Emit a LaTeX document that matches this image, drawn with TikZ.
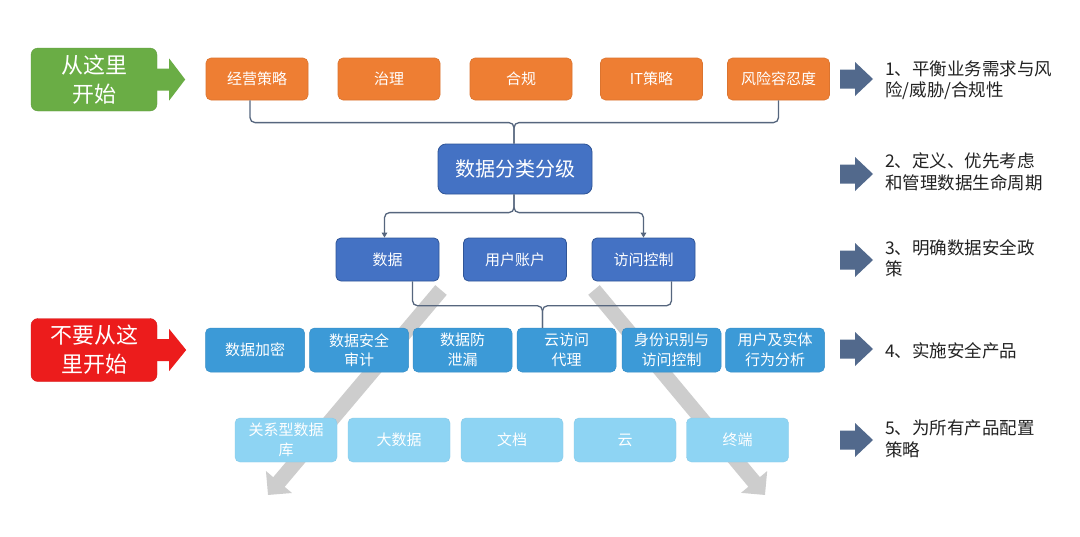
\documentclass[tikz,border=0pt]{standalone}
\usepackage{fontspec}
\setmainfont{Noto Sans CJK SC}
\usetikzlibrary{arrows.meta,calc}
\definecolor{cgreen}{HTML}{6AAD45}
\definecolor{corange}{HTML}{EE7E33}
\definecolor{cdblue}{HTML}{4472C4}
\definecolor{cdblueb}{HTML}{2F5597}
\definecolor{cmblue}{HTML}{3C9AD7}
\definecolor{clblue}{HTML}{8ED4F3}
\definecolor{cred}{HTML}{EC1C1C}
\definecolor{cslate}{HTML}{52698C}
\definecolor{cline}{HTML}{56667E}
\definecolor{cgrayar}{HTML}{CDCDCD}
\definecolor{ctext}{HTML}{222222}
\tikzset{
  box/.style={rounded corners=5pt, text=white, align=center, inner sep=0pt,
    minimum height=42pt, font=\fontsize{15}{19.5}\selectfont},
  obox/.style={box, fill=corange, draw=corange!92!black, line width=0.6pt, minimum width=102pt},
  dbbox/.style={box, fill=cdblue, draw=cdblueb, line width=0.8pt, minimum width=103pt, minimum height=43pt},
  mbbox/.style={box, fill=cmblue, draw=cmblue!92!black, line width=0.5pt, minimum width=99pt, minimum height=44pt},
  lbbox/.style={box, fill=clblue, draw=clblue!95!black, line width=0.4pt, minimum width=102pt, minimum height=44pt},
  startbox/.style={rounded corners=7pt, text=white, align=center, inner sep=0pt,
    minimum width=126pt, minimum height=63pt, font=\fontsize{22}{29}\selectfont},
  conn/.style={draw=cline, line width=1.3pt, rounded corners=5pt},
  connar/.style={conn, -{Triangle[width=5.5pt,length=5pt]}},
  lab/.style={anchor=west, align=left, text=ctext, inner sep=0pt,
    font=\fontsize{17.5}{21.5}\selectfont},
  bigar/.style={draw=cgrayar, line width=15pt, -{Triangle[width=33pt,length=17pt]}},
  rarrow/.pic={\fill[cslate] (0,-9.5) -- (15,-9.5) -- (15,-17) -- (33,0) -- (15,17) -- (15,9.5) -- (0,9.5) -- cycle;}
}
\begin{document}
\begin{tikzpicture}[x=1pt,y=-1pt]
\useasboundingbox (0,0) rectangle (1080,536);
\fill[white] (0,0) rectangle (1080,536);

% big gray diagonal arrows (behind)
\coordinate (gl0) at (441,290);
\coordinate (gl1) at (268,495);
\coordinate (gr0) at (594,290);
\coordinate (gr1) at (765,495);
\draw[bigar] (gl0) -- (gl1);
\draw[bigar] (gr0) -- (gr1);

% start boxes
\node[startbox, fill=cgreen, draw=cgreen!90!black] (gs) at (94,79.5) {从这里\\开始};
\begin{scope}[shift={(gs.east)}]
\fill[cgreen] (-2,-11) -- (12,-11) -- (12,-21) -- (28,0) -- (12,21) -- (12,11) -- (-2,11) -- cycle;
\end{scope}
\node[startbox, fill=cred, draw=cred!90!black] (rs) at (94,350) {不要从这\\里开始};
\begin{scope}[shift={(rs.east)}]
\fill[cred] (-2,-11) -- (12,-11) -- (12,-21) -- (29,0) -- (12,21) -- (12,11) -- (-2,11) -- cycle;
\end{scope}

% row 1
\node[obox] (b1) at (257,79) {经营策略};
\node[obox] (b2) at (389,79) {治理};
\node[obox] (b3) at (521,79) {合规};
\node[obox] (b4) at (651.5,79) {IT策略};
\node[obox] (b5) at (778.5,79) {风险容忍度};

% row 2
\node[box, fill=cdblue, draw=cdblueb, line width=0.8pt, rounded corners=8pt,
  minimum width=154pt, minimum height=50pt, font=\fontsize{20}{24}\selectfont] (dc) at (515,169) {数据分类分级};

% row 3
\node[dbbox] (r3a) at (387.5,259.5) {数据};
\node[dbbox] (r3b) at (515,259.5) {用户账户};
\node[dbbox] (r3c) at (643.5,259.5) {访问控制};

% row 4
\node[mbbox] (r4a) at (255,350) {数据加密};
\node[mbbox] (r4b) at (359,350) {数据安全\\审计};
\node[mbbox] (r4c) at (462.5,350) {数据防\\泄漏};
\node[mbbox] (r4d) at (566.5,350) {云访问\\代理};
\node[mbbox] (r4e) at (671.5,350) {身份识别与\\访问控制};
\node[mbbox] (r4f) at (775,350) {用户及实体\\行为分析};

% row 5
\node[lbbox] (r5a) at (286,440) {关系型数据\\库};
\node[lbbox] (r5b) at (399,440) {大数据};
\node[lbbox] (r5c) at (512,440) {文档};
\node[lbbox] (r5d) at (625,440) {云};
\node[lbbox] (r5e) at (737.5,440) {终端};

% connectors
\draw[conn] ($(b1.south)+(-7,0)$) |- ($(dc.north)+(-1,-21)$) -- ($(dc.north)+(-1,0)$);
\draw[conn] (b5.south) |- ($(dc.north)+(-1,-21)$) -- ($(dc.north)+(-1,0)$);
\draw[connar] ($(dc.south)+(-1,0)$) |- ($(r3a.north)+(-3,-25)$) -- ($(r3a.north)+(-3,0)$);
\draw[connar] ($(dc.south)+(-1,0)$) |- ($(r3c.north)+(0,-25)$) -- (r3c.north);
\draw[conn] ($(r3a.south)+(25,0)$) |- ($(r4d.north)+(-24,-22)$) -- ($(r4d.north)+(-24,0)$);
\draw[conn] ($(r3c.south)+(28,0)$) |- ($(r4d.north)+(-24,-22)$) -- ($(r4d.north)+(-24,0)$);

% right side arrows and labels
\pic at (840,79) {rarrow};
\pic at (840,174) {rarrow};
\pic at (840,260) {rarrow};
\pic at (840,349) {rarrow};
\pic at (840,440) {rarrow};
\node[lab] (t1) at (885,80) {1、平衡业务需求与风\\险/威胁/合规性};
\node[lab] (t2) at (885,172) {2、定义、优先考虑\\和管理数据生命周期};
\node[lab] (t3) at (885,258) {3、明确数据安全政\\策};
\node[lab] (t4) at (885,351) {4、实施安全产品};
\node[lab] (t5) at (885,439) {5、为所有产品配置\\策略};
\end{tikzpicture}
\end{document}
